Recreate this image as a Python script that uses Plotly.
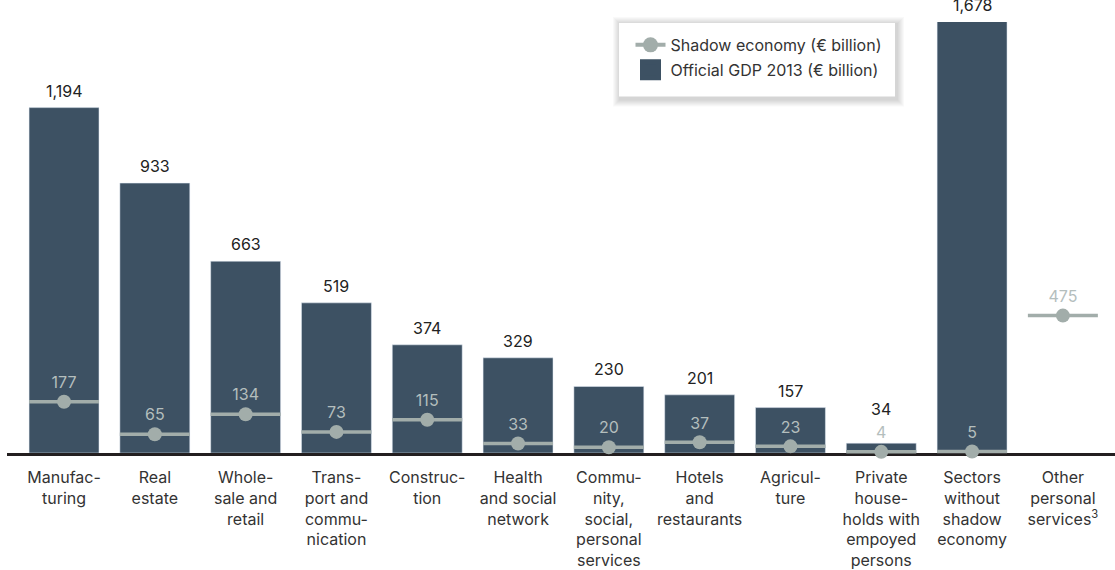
import plotly.graph_objects as go

categories = ["Manufac-<br>turing", "Real<br>estate", "Whole-<br>sale and<br>retail",
              "Trans-<br>port and<br>commu-<br>nication", "Construc-<br>tion",
              "Health<br>and social<br>network", "Commu-<br>nity,<br>social,<br>personal<br>services",
              "Hotels<br>and<br>restaurants", "Agricul-<br>ture",
              "Private<br>house-<br>holds with<br>empoyed<br>persons",
              "Sectors<br>without<br>shadow<br>economy", "Other<br>personal<br>services<sup>3</sup>"]
gdp = [1194, 933, 663, 519, 374, 329, 230, 201, 157, 34, 1678, None]
shadow = [177, 65, 134, 73, 115, 33, 20, 37, 23, 4, 5, 475]

BAR = "#3d5163"
GRAY = "#a2adaa"
LABEL_GRAY = "#b4bebd"
FONT = "Inter, Roboto, sans-serif"
YMAX = 1490

W, H = 1115, 570
ML, MR, MT, MB = 7, 0, 22, 114
PW, PH = W - ML - MR, H - MT - MB


def px(x):
    return (x - ML) / PW


def py(y):
    return (H - MB - y) / PH


x_idx = list(range(len(categories)))

fig = go.Figure()
fig.add_trace(go.Bar(x=x_idx, y=gdp, marker_color=BAR, width=0.77,
                     showlegend=False, name="Official GDP 2013 (€ billion)"))
# horizontal shadow line across bar width
fig.add_trace(go.Scatter(x=x_idx, y=shadow, mode="markers",
                         marker=dict(symbol="line-ew", size=50,
                                     line=dict(color=GRAY, width=3.5)),
                         showlegend=False, hoverinfo="skip", cliponaxis=False))
# dot + value
fig.add_trace(go.Scatter(x=x_idx, y=shadow, mode="markers+text",
                         marker=dict(symbol="circle", size=14, color=GRAY),
                         text=[str(v) for v in shadow], textposition="top center",
                         textfont=dict(color=LABEL_GRAY, size=16, family=FONT),
                         showlegend=False, cliponaxis=False,
                         name="Shadow economy (€ billion)"))
# legend entries
fig.add_trace(go.Scatter(x=[None], y=[None], mode="lines+markers",
                         line=dict(color=GRAY, width=4),
                         marker=dict(symbol="circle", size=15, color=GRAY),
                         name="Shadow economy (€ billion)", legendgroup="a"))
fig.add_trace(go.Scatter(x=[None], y=[None], mode="markers",
                         marker=dict(symbol="square", size=16, color=BAR,
                                     line=dict(color=BAR, width=5)),
                         name="Official GDP 2013 (€ billion)", legendgroup="b"))

scale = PH / YMAX
for i, v in enumerate(gdp):
    if v is None:
        continue
    shift = 5
    if (v - shadow[i]) * scale < 25:
        shift += 17
    fig.add_annotation(x=i, y=min(v, YMAX), text=f"{v:,}", showarrow=False,
                       yanchor="bottom", yshift=shift,
                       font=dict(size=16, color="#222222", family=FONT))

# legend box with soft shadow
bx0, bx1, by0, by1 = 619, 895, 23, 97
for d in range(1, 8):
    fig.add_shape(type="rect", xref="paper", yref="paper",
                  x0=px(bx0 + 1 - d), x1=px(bx1 + 2 + d),
                  y0=py(by1 + 3 + d), y1=py(by0 + 1 - d),
                  fillcolor="rgba(0,0,0,0.022)", line_width=0, layer="above")
fig.add_shape(type="rect", xref="paper", yref="paper",
              x0=px(bx0), x1=px(bx1), y0=py(by1), y1=py(by0),
              fillcolor="white", line_width=0, layer="above")

fig.update_layout(
    width=W, height=H,
    margin=dict(l=ML, r=MR, t=MT, b=MB),
    plot_bgcolor="white", paper_bgcolor="white",
    font=dict(family=FONT, color="#333333", size=16),
    legend=dict(x=px(630.5), y=py(28), xanchor="left", yanchor="top",
                bgcolor="rgba(0,0,0,0)", tracegroupgap=1,
                font=dict(size=16, color="#333333", family=FONT),
                itemwidth=30),
    xaxis=dict(range=[-0.628, 11.574], tickmode="array", tickvals=x_idx,
               ticktext=categories, showline=True, linecolor="#231f20",
               linewidth=2.5, showgrid=False, zeroline=False, ticks="",
               layer="below traces", ticklabelstandoff=8,
               tickfont=dict(size=16, color="#333333", family=FONT)),
    yaxis=dict(range=[0, YMAX], visible=False, showgrid=False),
)

fig.write_html("out.html")
